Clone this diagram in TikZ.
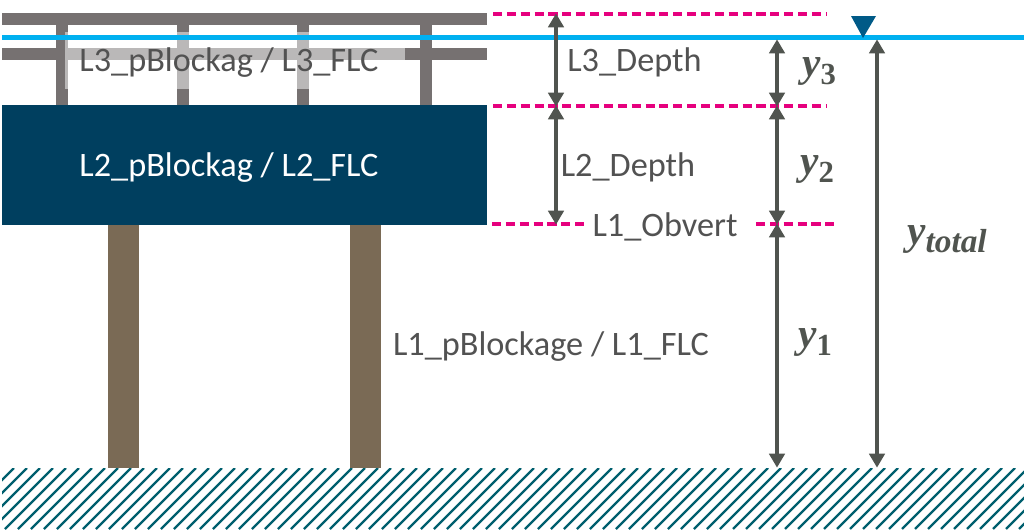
\documentclass[tikz,border=0pt]{standalone}
\usepackage{fontspec}
\setmainfont{Carlito}
\newfontfamily\yfont{Liberation Serif}
\newcommand{\ysym}[2]{{\fontsize{31}{34}\selectfont\yfont\bfseries\itshape y}\raisebox{-6pt}{\fontsize{#1}{26}\selectfont\yfont\bfseries #2}}
\usetikzlibrary{positioning, arrows.meta}
\definecolor{railgrey}{HTML}{767171}
\definecolor{deckblue}{HTML}{003F5F}
\definecolor{pierbrown}{HTML}{7A6A55}
\definecolor{waterblue}{HTML}{00B0F0}
\definecolor{levelpink}{HTML}{E6007E}
\definecolor{dimgrey}{HTML}{50544F}
\definecolor{markerblue}{HTML}{005A87}
\definecolor{groundteal}{HTML}{005F6E}

\begin{document}
\begin{tikzpicture}[
  x=0.75pt, y=-0.75pt,
  font=\fontsize{25.7}{28}\selectfont,
  rail/.style={fill=railgrey, inner sep=0pt, minimum width=363.75pt, minimum height=9pt},
  post/.style={fill=railgrey, inner sep=0pt, minimum width=9pt, minimum height=60pt},
  pier/.style={fill=pierbrown, inner sep=0pt, minimum width=23.25pt, minimum height=182.25pt},
  lbl/.style={text=black!68, inner sep=0pt},
  ylbl/.style={text=dimgrey, inner sep=0pt},
  level/.style={levelpink, line width=2.6pt, dash pattern=on 6.8pt off 3.6pt},
  dim/.style={{Triangle[width=11.5pt,length=10.5pt]}-{Triangle[width=11.5pt,length=10.5pt]}, dimgrey, line width=3.3pt, shorten <=-0.5pt, shorten >=-0.5pt}
]
\useasboundingbox (0,0) rectangle (1024,529);

% ground
\begin{scope}
  \clip (2,468) rectangle (1024,529);
  \foreach \hx in {-60,-47,...,1024}
    \draw[groundteal, line width=1.8pt] (\hx,529) -- (\hx+61,468);
\end{scope}

% structure
\node[rail] (rail3top) at (244.5,19) {};
\node[rail] (rail3low) at (244.5,54) {};
\node[post] (post3a) at (62,65) {};
\node[post] (post3b) at (183,65) {};
\node[post] (post3c) at (303,65) {};
\node[post] (post3d) at (426,65) {};
\node[fill=white, fill opacity=.5, inner sep=0pt, minimum width=255pt, minimum height=42.75pt] (l3veil) at (235,60.5) {};
\node[fill=deckblue, inner sep=0pt, minimum width=363.75pt, minimum height=90pt] (deck) at (244.5,165) {};
\node[pier] (pier1) at (123.5,346.5) {};
\node[pier] (pier2) at (365.5,346.5) {};

% water
\coordinate (waterL) at (2,37.5);
\coordinate (waterR) at (1024,37.5);
\draw[waterblue, line width=4pt] (waterL) -- (waterR);
\fill[markerblue] (851,16) -- (876,16) -- (863,38) -- cycle;

% levels
\coordinate (t3a) at (493,14);
\coordinate (t3b) at (826,14);
\coordinate (t2a) at (493,106);
\coordinate (t2b) at (826,106);
\coordinate (t1a) at (492,224);
\coordinate (t1b) at (586,224);
\coordinate (t1c) at (756,224);
\coordinate (t1d) at (835,224);
\draw[level] (t3a) -- (t3b);
\draw[level] (t2a) -- (t2b);
\draw[level] (t1a) -- (t1b);
\draw[level] (t1c) -- (t1d);

% dimensions
\coordinate (d3) at (556,14);
\coordinate (d2) at (556,106);
\coordinate (d1) at (556,224);
\coordinate (y4) at (777,40);
\coordinate (y3) at (777,106);
\coordinate (y2) at (777,224);
\coordinate (y1) at (777,467);
\coordinate (ya) at (877,40);
\coordinate (yb) at (877,467);
\draw[dim] (d3) -- (d2);
\draw[dim] (d2) -- (d1);
\draw[dim] (y4) -- (y3);
\draw[dim] (y3) -- (y2);
\draw[dim] (y2) -- (y1);
\draw[dim] (ya) -- (yb);

% labels
\node[lbl] (l3name) at (229,63) {L3\_pBlockag / L3\_FLC};
\node[lbl, text=white] (l2name) at (229,168) {L2\_pBlockag / L2\_FLC};
\node[lbl] (l1name) at (551,347) {L1\_pBlockage / L1\_FLC};
\node[lbl] (l3depth) at (634.5,62) {L3\_Depth};
\node[lbl] (l2depth) at (628,167) {L2\_Depth};
\node[lbl] (l1obv) at (665,227) {L1\_Obvert};
\node[ylbl] (ylab3) at (819,71) {\ysym{23}{3}};
\node[ylbl] (ylab2) at (817,169) {\ysym{23}{2}};
\node[ylbl] (ylab1) at (815,342) {\ysym{23}{1}};
\node[ylbl] (ylabt) at (947,239) {\ysym{25}{\itshape total}};
\end{tikzpicture}
\end{document}
